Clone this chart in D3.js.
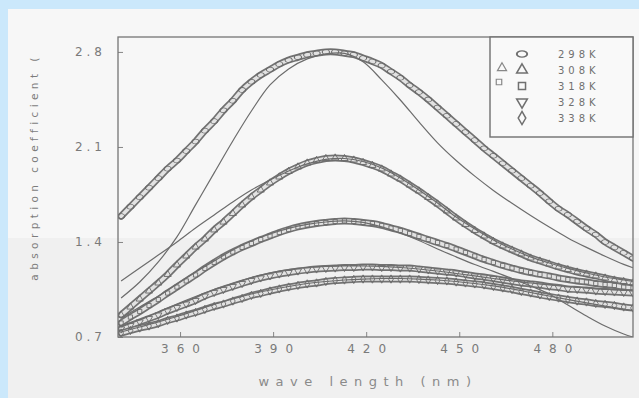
<!DOCTYPE html>
<html>
<head>
<meta charset="utf-8">
<script src="https://cdn.jsdelivr.net/npm/d3@7"></script>
<style>
  html, body { margin: 0; padding: 0; background: #cbe8fb; }
  svg { display: block; }
</style>
</head>
<body>
<svg id="chart" width="639" height="398"></svg>
<script>
// Wavelength grid of the measured spectra (nm)
const wavelengths = [341,344,347,350,353,356,359,362,365,368,371,374,377,380,383,386,389,392,395,398,
  401,404,407,410,413,416,419,422,425,428,431,434,437,440,443,446,449,452,455,458,
  461,464,467,470,473,476,479,482,485,488,491,494,497,500,503,506];

// Measured absorption coefficient at each temperature
const abs298 = [1.59,1.66,1.73,1.80,1.87,1.94,2.00,2.07,2.14,2.22,2.29,2.37,2.44,2.52,2.58,2.63,2.67,2.71,2.74,2.76,
  2.78,2.79,2.80,2.80,2.79,2.78,2.755,2.73,2.70,2.655,2.61,2.555,2.505,2.45,2.39,2.33,2.27,2.21,2.15,2.09,
  2.035,1.98,1.925,1.87,1.815,1.76,1.70,1.645,1.60,1.55,1.50,1.455,1.40,1.36,1.32,1.28];
const abs308 = [0.862,0.921,0.980,1.039,1.098,1.161,1.231,1.297,1.363,1.422,1.489,1.547,1.610,1.673,1.732,1.783,1.835,1.879,1.920,1.953,
  1.982,2.001,2.015,2.019,2.015,2.004,1.986,1.964,1.938,1.901,1.864,1.820,1.776,1.728,1.680,1.629,1.577,1.529,1.485,1.444,
  1.404,1.371,1.341,1.312,1.282,1.260,1.238,1.216,1.197,1.179,1.164,1.150,1.135,1.120,1.109,1.098];
const abs318 = [0.803,0.847,0.888,0.932,0.976,1.024,1.068,1.113,1.157,1.205,1.249,1.290,1.326,1.360,1.389,1.418,1.444,1.470,1.492,1.511,
  1.525,1.536,1.544,1.551,1.555,1.551,1.544,1.536,1.522,1.503,1.485,1.463,1.441,1.418,1.396,1.374,1.348,1.323,1.297,1.271,
  1.249,1.227,1.208,1.190,1.175,1.161,1.150,1.135,1.124,1.113,1.105,1.094,1.087,1.080,1.068,1.061];
const abs328 = [0.759,0.785,0.811,0.836,0.862,0.892,0.917,0.943,0.969,1.002,1.028,1.050,1.072,1.094,1.116,1.135,1.150,1.164,1.175,1.186,
  1.194,1.201,1.205,1.208,1.212,1.212,1.216,1.216,1.212,1.212,1.208,1.208,1.201,1.194,1.186,1.179,1.172,1.161,1.150,1.142,
  1.131,1.120,1.109,1.098,1.091,1.083,1.072,1.065,1.054,1.050,1.046,1.039,1.035,1.032,1.028,1.024];
const abs338 = [0.729,0.748,0.766,0.781,0.799,0.822,0.840,0.862,0.881,0.903,0.925,0.943,0.965,0.984,1.006,1.021,1.039,1.054,1.068,1.080,
  1.091,1.098,1.109,1.116,1.120,1.124,1.127,1.127,1.127,1.127,1.127,1.127,1.124,1.120,1.116,1.113,1.105,1.098,1.091,1.083,
  1.072,1.061,1.050,1.035,1.024,1.010,0.998,0.987,0.976,0.965,0.958,0.947,0.940,0.932,0.921,0.914];

// Wavelength grid of the fitted curves (nm)
const fitWavelengths = [341,347,353,359,365,371,377,383,389,395,401,407,413,419,425,431,437,443,449,455,
  461,467,473,479,485,491,497,503,506];
const fit298 = [0.987,1.105,1.253,1.437,1.673,1.909,2.144,2.365,2.557,2.675,2.749,2.785,2.789,2.727,2.594,2.446,2.284,2.130,2.000,1.885,
  1.780,1.685,1.595,1.510,1.430,1.360,1.295,1.235,1.210];
const fit308 = [1.113,1.208,1.304,1.400,1.503,1.599,1.695,1.783,1.857,1.923,1.975,2.008,2.015,1.993,1.945,1.872,1.783,1.687,1.584,1.496,
  1.415,1.348,1.290,1.245,1.205,1.172,1.142,1.120,1.109];
const fit318 = [0.840,0.921,1.002,1.091,1.179,1.260,1.341,1.407,1.459,1.500,1.529,1.547,1.555,1.544,1.511,1.466,1.411,1.348,1.290,1.234,
  1.183,1.131,1.076,1.017,0.936,0.855,0.781,0.722,0.700];
const fit328 = [0.774,0.825,0.884,0.943,0.998,1.050,1.098,1.138,1.172,1.197,1.212,1.220,1.223,1.223,1.220,1.212,1.201,1.186,1.168,1.150,
  1.131,1.113,1.098,1.083,1.072,1.061,1.054,1.046,1.043];
const fit338 = [0.737,0.774,0.811,0.851,0.895,0.940,0.980,1.017,1.046,1.072,1.094,1.109,1.120,1.127,1.131,1.131,1.127,1.120,1.109,1.094,
  1.076,1.054,1.028,1.002,0.976,0.951,0.928,0.906,0.895];

const temperatures = ['298K', '308K', '318K', '328K', '338K'];
const xTicks = [360, 390, 420, 450, 480];
const yTicks = [0.7, 1.4, 2.1, 2.8];

const measured = [abs298, abs308, abs318, abs328, abs338];
const fitted = [fit298, fit308, fit318, fit328, fit338];

const W = 639, H = 398;
const plot = { left: 118, right: 633, top: 37, bottom: 337 };

const svg = d3.select('#chart');

// paper panel
svg.append('rect').attr('x', 8).attr('y', 9).attr('width', W - 8).attr('height', H - 9).attr('fill', '#f7f7f7');
svg.append('rect').attr('x', 8).attr('y', 238).attr('width', W - 8).attr('height', H - 238).attr('fill', '#f0f0f0');

const x = d3.scaleLinear().domain([340, 506]).range([plot.left, plot.right]);
const y = d3.scaleLinear().domain([0.7, 2.91]).range([plot.bottom, plot.top]);

svg.append('defs').append('clipPath').attr('id', 'plotClip')
  .append('rect').attr('x', plot.left).attr('y', plot.top)
  .attr('width', plot.right - plot.left).attr('height', plot.bottom - plot.top);

const ink = '#6c6c6c';
const tickInk = '#858585';

// axes with inward ticks
const yAxis = svg.append('g').attr('transform', `translate(${plot.left},0)`)
  .call(d3.axisLeft(y).tickValues(yTicks).tickSize(-5).tickPadding(16).tickFormat(d3.format('.1f')));
const xAxis = svg.append('g').attr('transform', `translate(0,${plot.bottom})`)
  .call(d3.axisBottom(x).tickValues(xTicks).tickSize(-5).tickPadding(7).tickFormat(d3.format('d')));

[xAxis, yAxis].forEach(g => {
  g.select('.domain').remove();
  g.selectAll('.tick line').attr('stroke', tickInk).attr('stroke-width', 1);
  g.selectAll('.tick text')
    .attr('fill', '#7a7a7a')
    .style('font-family', '"DejaVu Sans", sans-serif')
    .style('font-size', '12px');
});
yAxis.selectAll('.tick text').style('letter-spacing', '4px').attr('dx', '4px');
xAxis.selectAll('.tick text').style('letter-spacing', '8px').attr('dx', '4px');

// curves
const gCurves = svg.append('g').attr('clip-path', 'url(#plotClip)');

const bandLine = d3.line().curve(d3.curveCatmullRom)
  .x((d, i) => x(wavelengths[i])).y(d => y(d));
const fitLine = d3.line().curve(d3.curveCatmullRom)
  .x((d, i) => x(fitWavelengths[i])).y(d => y(d));

const symbolTypes = [d3.symbolCircle, d3.symbolTriangle, d3.symbolSquare, d3.symbolTriangle, d3.symbolDiamond];
const symbolRotate = [0, 0, 0, 180, 0];
const symbolSizes = [26, 22, 18, 22, 20];

measured.forEach(vals => {
  gCurves.append('path').attr('d', bandLine(vals))
    .attr('fill', 'none').attr('stroke', '#727272').attr('stroke-width', 7).attr('stroke-linecap', 'round');
  gCurves.append('path').attr('d', bandLine(vals))
    .attr('fill', 'none').attr('stroke', '#e2e2e2').attr('stroke-width', 3.6).attr('stroke-linecap', 'round');
});

measured.forEach((vals, s) => {
  const sym = d3.symbol().type(symbolTypes[s]).size(symbolSizes[s]);
  gCurves.append('g').selectAll('path').data(vals).join('path')
    .attr('d', sym)
    .attr('transform', (d, i) => `translate(${x(wavelengths[i])},${y(d)}) rotate(${symbolRotate[s]})${s === 0 ? ' scale(1.25,0.85)' : ''}`)
    .attr('fill', 'none').attr('stroke', '#6a6a6a').attr('stroke-width', 0.9);
});

fitted.forEach(vals => {
  gCurves.append('path').attr('d', fitLine(vals))
    .attr('fill', 'none').attr('stroke', ink).attr('stroke-width', 1.2);
});

// frame
svg.append('rect').attr('x', plot.left).attr('y', plot.top)
  .attr('width', plot.right - plot.left).attr('height', plot.bottom - plot.top)
  .attr('fill', 'none').attr('stroke', '#767676').attr('stroke-width', 1.3);

// legend
const legend = svg.append('g');
legend.append('rect').attr('x', 490).attr('y', plot.top).attr('width', plot.right - 490).attr('height', 100)
  .attr('fill', '#f9f9f9').attr('stroke', '#707070').attr('stroke-width', 1.4);
const rowY = [54, 70, 86, 102, 118];
temperatures.forEach((t, s) => {
  const sym = d3.symbol().type(symbolTypes[s]).size(50);
  legend.append('path').attr('d', sym)
    .attr('transform', `translate(522,${rowY[s]}) rotate(${symbolRotate[s]})${s === 0 ? ' scale(1.3,0.8)' : ''}`)
    .attr('fill', 'none').attr('stroke', '#707070').attr('stroke-width', 1.5);
  legend.append('text').attr('x', 558).attr('y', rowY[s] + 4).text(t)
    .attr('fill', '#707070')
    .style('font-family', '"DejaVu Sans", sans-serif')
    .style('font-size', '10px').style('letter-spacing', '4px');
});
legend.append('path').attr('d', d3.symbol().type(d3.symbolTriangle).size(36))
  .attr('transform', `translate(502,${rowY[1] - 2})`)
  .attr('fill', 'none').attr('stroke', '#888').attr('stroke-width', 1.2);
legend.append('path').attr('d', d3.symbol().type(d3.symbolSquare).size(30))
  .attr('transform', `translate(499,${rowY[2] - 4})`)
  .attr('fill', 'none').attr('stroke', '#888').attr('stroke-width', 1.2);

// axis titles
svg.append('text').attr('transform', 'translate(38,167) rotate(-90)')
  .attr('text-anchor', 'middle').text('absorption coefficient (')
  .attr('fill', '#7c7c7c')
  .style('font-family', '"DejaVu Sans", sans-serif')
  .style('font-size', '10.5px').style('letter-spacing', '4.4px');
svg.append('text').attr('x', 368).attr('y', 386)
  .attr('text-anchor', 'middle').text('wave length (nm)')
  .attr('fill', '#8a8a8a')
  .style('font-family', '"DejaVu Sans", sans-serif')
  .style('font-size', '13px').style('letter-spacing', '6.5px');
</script>
</body>
</html>
